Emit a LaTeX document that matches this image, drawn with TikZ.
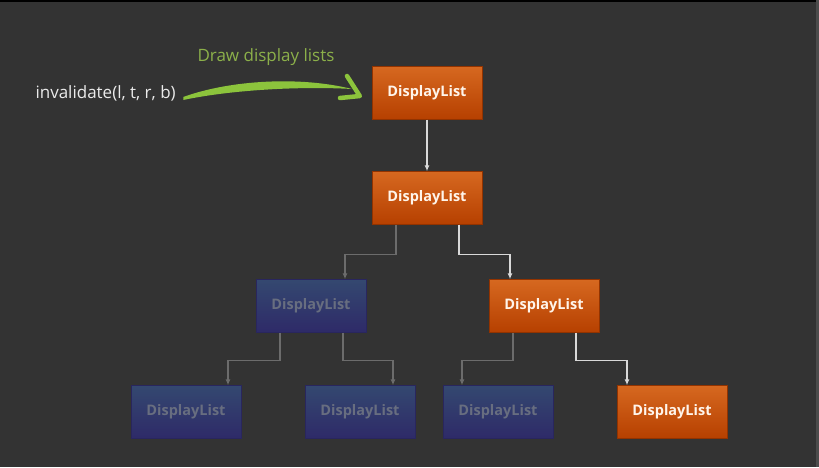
\documentclass[tikz,border=0pt]{standalone}
\usepackage{fontspec}
\setmainfont{Open Sans}
\usepackage{tikz}
\usetikzlibrary{arrows.meta}
\definecolor{slatebg}{RGB}{51, 51, 51}
\definecolor{ambertop}{RGB}{214, 104, 32}
\definecolor{amberbot}{RGB}{182, 64, 0}
\definecolor{indigotop}{RGB}{52, 72, 112}
\definecolor{indigobot}{RGB}{46, 42, 104}
\definecolor{fadetext}{RGB}{104, 110, 128}
\definecolor{limegreen}{RGB}{140, 196, 60}
\definecolor{mossgreen}{RGB}{140, 176, 74}

\begin{document}
\begin{tikzpicture}[
			x=1pt, y=-1pt,
			orangebox/.style={draw=amberbot!80!black, top color=ambertop, bottom color=amberbot, rectangle, minimum width=110pt, minimum height=53pt, text=white!92!orange, font=\fontsize{14.5}{16}\selectfont\bfseries},
			bluebox/.style={draw=indigobot!90!black, top color=indigotop, bottom color=indigobot, rectangle, minimum width=110pt, minimum height=53pt, text=fadetext, font=\fontsize{14.5}{16}\selectfont\bfseries},
			hotline/.style={draw=white!85!black, line width=1.2pt, -{Latex[length=6pt,width=5pt]}},
			coldline/.style={draw=gray!75!slatebg, line width=1.2pt, -{Latex[length=6pt,width=5pt]}}
			]
			% Hintergrund
			\fill[slatebg] (0,0) rectangle (819,467);
			\useasboundingbox (0,0) rectangle (819,467);
			\fill[black] (0,0) rectangle (819,2);
			\fill[black!70] (816,0) rectangle (819,467);
			
			% Aufruf und Pfeil
			\node[anchor=west, text=white!92!black, font=\fontsize{17}{20}\selectfont] (call) at (32,93) {invalidate(l, t, r, b)};
			\node[text=mossgreen, font=\fontsize{17}{20}\selectfont] (hint) at (266,57) {Draw display lists};
			
			% Pinselstrich
			\fill[limegreen] ([xshift=4pt,yshift=-4pt]call.east) .. controls (230,80) and (300,76) .. (352,89)
				.. controls (300,86) and (230,90) .. ([xshift=4pt,yshift=-7pt]call.east) -- cycle;
			
			% Knoten
			\node[orangebox] (root) at (427,93) {DisplayList};
			\node[orangebox] (mid) at (427,198) {DisplayList};
			\node[bluebox] (left) at (311,306) {DisplayList};
			\node[orangebox] (right) at (544,306) {DisplayList};
			\node[bluebox] (ll) at (186,412) {DisplayList};
			\node[bluebox] (lr) at (360,412) {DisplayList};
			\node[bluebox] (rl) at (498,412) {DisplayList};
			\node[orangebox] (rr) at (672,412) {DisplayList};
			
			\draw[limegreen, line width=4.5pt, line cap=round, line join=round] (347,76) -- ([xshift=-12pt,yshift=-3pt]root.west) -- (340,98);
			
			% Verbindungen
			\draw[hotline] (root.south) -- (mid.north);
			\draw[coldline] ([xshift=-31pt]mid.south) -- ++(0,30) -| ([xshift=34pt]left.north);
			\draw[hotline] ([xshift=32pt]mid.south) -- ++(0,30) -| ([xshift=-34pt]right.north);
			\draw[coldline] ([xshift=-31pt]left.south) -- ++(0,28) -| ([xshift=42pt]ll.north);
			\draw[coldline] ([xshift=32pt]left.south) -- ++(0,28) -| ([xshift=33pt]lr.north);
			\draw[coldline] ([xshift=-31pt]right.south) -- ++(0,28) -| ([xshift=-36pt]rl.north);
			\draw[hotline] ([xshift=32pt]right.south) -- ++(0,28) -| ([xshift=-45pt]rr.north);
			
		\end{tikzpicture}
\end{document}
